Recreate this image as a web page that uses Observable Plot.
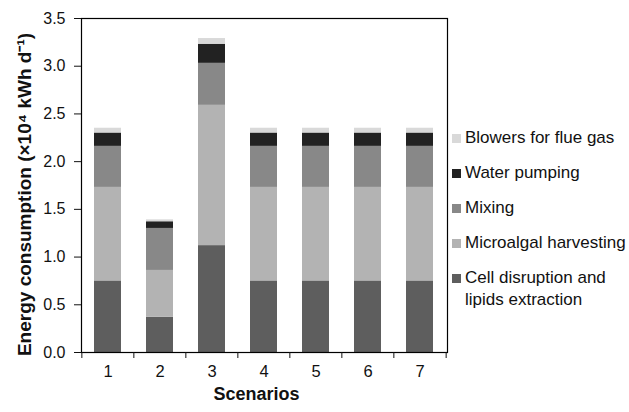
<!DOCTYPE html>
<html>
<head>
<meta charset="utf-8">
<script src="https://cdn.jsdelivr.net/npm/d3@7"></script>
<script src="https://cdn.jsdelivr.net/npm/@observablehq/plot@0.6"></script>
<style>
  html, body { margin: 0; padding: 0; background: #fff; }
  #wrap { position: relative; width: 629px; height: 412px; font-family: "Liberation Sans", Arial, sans-serif; }
  #legend { position: absolute; left: 452px; top: 127px; color: #111; font-size: 17px; }
  .item { display: flex; align-items: flex-start; line-height: 22px; margin-bottom: 13px; }
  .sw { width: 9px; height: 9px; margin-top: 7px; margin-right: 4px; flex: none; }
</style>
</head>
<body>
<div id="wrap"></div>
<script>
const scenarios = ["1", "2", "3", "4", "5", "6", "7"];
const components = ["Cell disruption and lipids extraction", "Microalgal harvesting", "Mixing", "Water pumping", "Blowers for flue gas"];
const legendLabels = ["Blowers for flue gas", "Water pumping", "Mixing", "Microalgal harvesting", "Cell disruption and\nlipids extraction"];
const colors = ["#5e5e5e", "#b3b3b3", "#888888", "#222222", "#d9d9d9"];
// energy consumption (×10^4 kWh/d) per component for each scenario
const cellDisruption = [0.75, 0.37, 1.12, 0.75, 0.75, 0.75, 0.75];
const harvesting     = [0.98, 0.49, 1.47, 0.98, 0.98, 0.98, 0.98];
const mixing         = [0.43, 0.44, 0.44, 0.43, 0.43, 0.43, 0.43];
const waterPumping   = [0.14, 0.07, 0.20, 0.14, 0.14, 0.14, 0.14];
const blowers        = [0.05, 0.02, 0.06, 0.05, 0.05, 0.05, 0.05];
const yTicks = [0, 0.5, 1.0, 1.5, 2.0, 2.5, 3.0, 3.5];

const series = [cellDisruption, harvesting, mixing, waterPumping, blowers];
const data = [];
scenarios.forEach((s, i) => series.forEach((arr, j) => data.push({scenario: s, component: components[j], value: arr[i]})));

const W = 629, H = 412, mL = 81, mR = 182, mT = 18, mB = 60;
const step = (W - mL - mR) / scenarios.length;
const font = "'Liberation Sans', Arial, sans-serif";

const chart = Plot.plot({
  width: W, height: H,
  marginLeft: mL, marginRight: mR, marginTop: mT, marginBottom: mB,
  style: {fontFamily: font, fontSize: "16px", color: "#111", background: "#fff"},
  x: {domain: scenarios, paddingInner: 0.48, paddingOuter: 0.24, axis: null},
  y: {domain: [0, 3.5], axis: null},
  color: {domain: components, range: colors},
  marks: [
    Plot.barY(data, {x: "scenario", y: "value", fill: "component", order: components}),
    Plot.frame({stroke: "#000", strokeWidth: 1.2}),
    Plot.axisY({ticks: yTicks, tickSize: 7, tickPadding: 9, tickFormat: d => d.toFixed(1), label: null, fontSize: 16}),
    Plot.axisX({ticks: scenarios, tickSize: 6, tickFormat: null, label: null, dx: -step / 2}),
    Plot.axisX({ticks: scenarios.slice(-1), tickSize: 6, tickFormat: null, label: null, dx: step / 2}),
    Plot.axisX({ticks: scenarios, tickSize: 0, tickPadding: 13, label: null, fontSize: 16.5}),
    Plot.text(["Energy consumption (×10⁴ kWh d⁻¹)"], {frameAnchor: "left", textAnchor: "middle", lineAnchor: "middle", rotate: -90, dx: -57, dy: 9, text: d => d, fontSize: 19, fontWeight: "bold", fill: "#111"}),
    Plot.text(["Scenarios"], {frameAnchor: "bottom", textAnchor: "middle", lineAnchor: "middle", dy: 42, dx: -8, text: d => d, fontSize: 18, fontWeight: "bold", fill: "#111"})
  ]
});
document.getElementById("wrap").appendChild(chart);

const legend = document.createElement("div");
legend.id = "legend";
legendLabels.forEach(lbl => {
  const item = document.createElement("div");
  item.className = "item";
  const sw = document.createElement("div");
  sw.className = "sw";
  sw.style.background = colors[components.indexOf(lbl.replace("\n", " "))];
  const t = document.createElement("div");
  t.style.whiteSpace = "pre";
  t.textContent = lbl;
  item.appendChild(sw); item.appendChild(t);
  legend.appendChild(item);
});
document.getElementById("wrap").appendChild(legend);
</script>
</body>
</html>
